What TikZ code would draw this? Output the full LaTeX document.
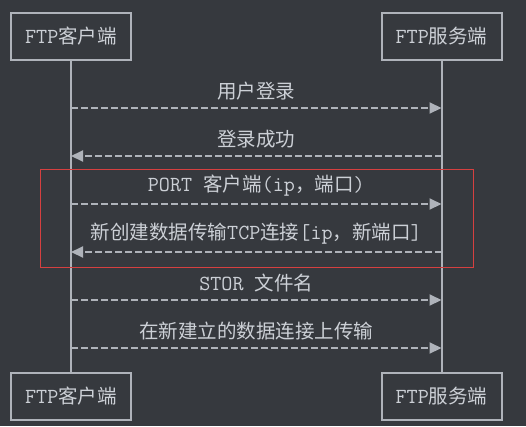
\documentclass[tikz,border=0pt]{standalone}
\usepackage{fontspec}
\usepackage{tikz}
\usetikzlibrary{arrows.meta, positioning}
\newfontfamily\cjk{Noto Sans CJK SC}
\definecolor{mybg}{RGB}{54,57,62}
\definecolor{mygrey}{RGB}{175,179,186}
\definecolor{mytext}{RGB}{204,208,214}
\definecolor{myred}{RGB}{214,64,64}
\newcommand{\zh}[1]{{\cjk\fontsize{19.5}{23}\selectfont #1}}
\tikzset{
  actor/.style={rectangle, draw=mygrey, fill=mybg, text=mytext,
    minimum width=120pt, minimum height=47pt, inner sep=0pt,
    font=\fontsize{21.5}{25}\ttfamily, line width=2pt},
  life/.style={mygrey, line width=2pt},
  msg/.style={-{Triangle[length=12pt, width=11pt]}, line width=2pt,
    color=mygrey, dash pattern=on 7pt off 3pt},
  msglabel/.style={above=7pt, inner sep=0pt, text=mytext,
    font=\fontsize{21.5}{25}\ttfamily},
  frame/.style={draw=myred, line width=1pt}
}

\begin{document}
\begin{tikzpicture}[x=1pt, y=-1pt]
  % Background
  \fill[mybg] (0,0) rectangle (526,426);
  \useasboundingbox (0,0) rectangle (526,426);

  % Actors
  \node[actor] (cli) at (71, 36.5) {FTP\zh{客户端}};
  \node[actor] (srv) at (441.5, 36.5) {FTP\zh{服务端}};
  \node[actor] (cliB) at (71, 396.5) {FTP\zh{客户端}};
  \node[actor] (srvB) at (441.5, 396.5) {FTP\zh{服务端}};

  % Lifelines
  \draw[life] (cli) -- (cliB);
  \draw[life] (srv) -- (srvB);

  % Message ends on the lifelines
  \foreach \i/\y in {1/108, 2/156, 3/204, 4/252, 5/300, 6/348} {
    \coordinate (c\i) at (71, \y);
    \coordinate (s\i) at (441.5, \y);
  }

  % Data connection frame
  \draw[frame] (40, 169) rectangle (473, 267);

  % Messages
  \draw[msg] (c1) -- (s1) node[midway, msglabel] (m1) {\zh{用户登录}};
  \draw[msg] (s2) -- (c2) node[midway, msglabel] (m2) {\zh{登录成功}};
  \draw[msg] (c3) -- (s3) node[midway, msglabel] (m3) {PORT \zh{客户端}(ip\zh{，端口})};
  \draw[msg] (s4) -- (c4) node[midway, msglabel] (m4) {\zh{新创建数据传输}TCP\zh{连接}[ip\zh{，新端口}]};
  \draw[msg] (c5) -- (s5) node[midway, msglabel] (m5) {STOR \zh{文件名}};
  \draw[msg] (c6) -- (s6) node[midway, msglabel] (m6) {\zh{在新建立的数据连接上传输}};
\end{tikzpicture}
\end{document}
